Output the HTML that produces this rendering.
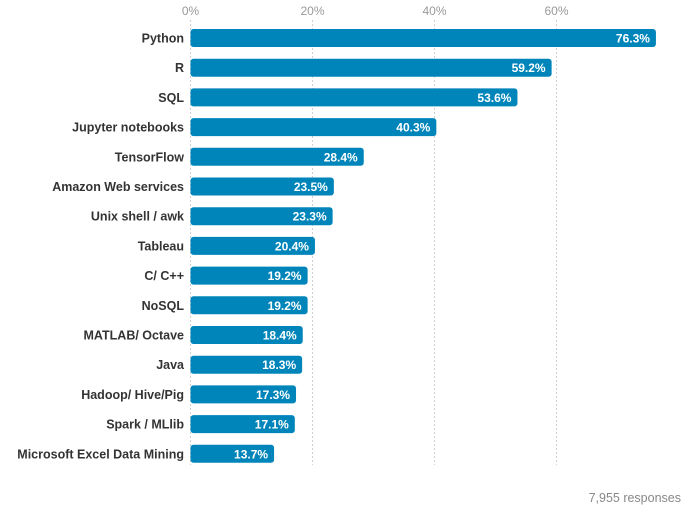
<!DOCTYPE html>
<html><head><meta charset="utf-8"><style>
body{margin:0;background:#fff;font-family:"Liberation Sans",sans-serif}
</style></head><body>
<svg id="chart" width="688" height="511" xmlns="http://www.w3.org/2000/svg"></svg>
<script>
const categories=["Python","R","SQL","Jupyter notebooks","TensorFlow","Amazon Web services","Unix shell / awk","Tableau","C/ C++","NoSQL","MATLAB/ Octave","Java","Hadoop/ Hive/Pig","Spark / MLlib","Microsoft Excel Data Mining"];
const values=[76.3,59.2,53.6,40.3,28.4,23.5,23.3,20.4,19.2,19.2,18.4,18.3,17.3,17.1,13.7];
const ticks=[0,20,40,60];
const NS="http://www.w3.org/2000/svg";
const svg=document.getElementById('chart');
const x0=190.5,pxPer=6.1;
const xs=v=>x0+v*pxPer;
const ys=i=>29+i*29.7;
const bh=18;
function mk(t,a){const e=document.createElementNS(NS,t);for(const k in a)e.setAttribute(k,a[k]);svg.appendChild(e);return e;}
ticks.forEach(t=>{
  const l=mk('line',{x1:xs(t),x2:xs(t),y1:20,y2:465,stroke:'#d0d0d0','stroke-dasharray':'2,2'});
  
  
  const tx=mk('text',{x:xs(t),y:15,'text-anchor':'middle','font-size':12,fill:'#999'});
  tx.textContent=t+'%';
  
  
});
categories.forEach((c,i)=>{
  const y=ys(i);
  const lb=mk('text',{x:184,y:y+bh/2+4.5,'text-anchor':'end','font-size':12.5,'font-weight':'bold',fill:'#333'});
  lb.textContent=c;
  
  
  const r=mk('rect',{x:x0,y:y,width:xs(values[i])-x0,height:bh,rx:3,fill:'#0085ba'});
  
  
  const v=mk('text',{x:xs(values[i])-6,y:y+bh/2+4.5,'text-anchor':'end','font-size':12,'font-weight':'bold',fill:'#fff'});
  v.textContent=values[i].toFixed(1)+'%';
  
  
});
const f=mk('text',{x:681,y:502,'text-anchor':'end','font-size':12.5,fill:'#888'});
f.textContent='7,955 responses';


</script>
</body></html>
